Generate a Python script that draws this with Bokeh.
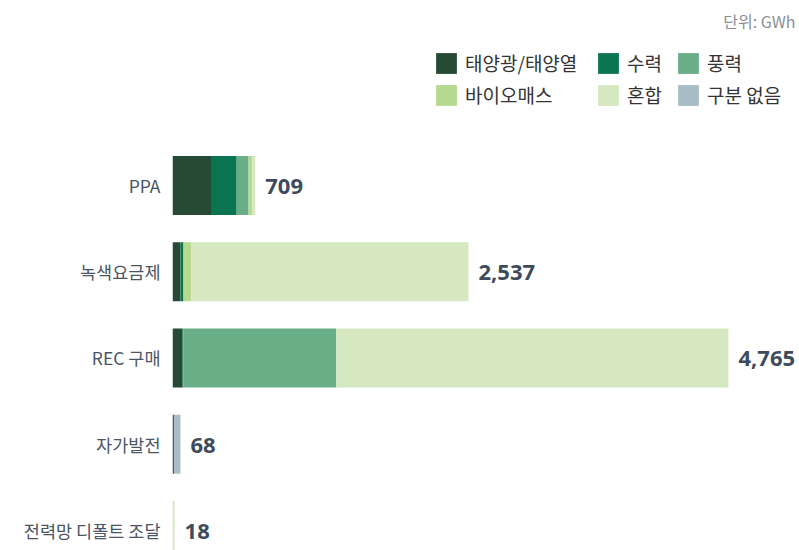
from bokeh.plotting import figure
from bokeh.models import ColumnDataSource, Range1d, FixedTicker, Legend, LegendItem, Label
from bokeh.core.properties import value
from bokeh.embed import file_html
from bokeh.resources import INLINE

categories = ["PPA", "녹색요금제", "REC 구매", "자가발전", "전력망 디폴트 조달"]
series_names = ["태양광/태양열", "수력", "풍력", "바이오매스", "혼합", "구분 없음"]
solar = [330, 68, 85, 12, 0]
hydro = [220, 26, 8, 0, 0]
wind = [102, 0, 1311, 0, 0]
bio = [32, 68, 0, 0, 0]
mixed = [25, 2375, 3361, 0, 18]
unknown = [0, 0, 0, 56, 0]
totals = [709, 2537, 4765, 68, 18]
total_labels = ["709", "2,537", "4,765", "68", "18"]
colors = ["#274a34", "#0b7450", "#6aae88", "#b6d98f", "#d6e8c0", "#a8bdc5"]

keys = ["s0", "s1", "s2", "s3", "s4", "s5"]
ypos = list(range(len(categories)))
src = ColumnDataSource(dict(y=ypos, s0=solar, s1=hydro, s2=wind, s3=bio, s4=mixed, s5=unknown,
                            total=totals, label=total_labels))

FONT = "Noto Sans CJK KR"
XMAX = 5374

p = figure(width=799, height=550, output_backend="svg", toolbar_location=None,
           x_range=Range1d(0, XMAX), y_range=Range1d(4.232, -2.145),
           x_axis_location=None, min_border_left=172, min_border_right=0,
           min_border_top=0, min_border_bottom=0)
p.outline_line_color = None
p.grid.visible = False
p.background_fill_color = "white"
p.border_fill_color = "white"

renderers = p.hbar_stack(keys, y="y", height=0.684, color=colors, source=src, line_width=0)

p.text(x="total", y="y", text="label", source=src, x_offset=10, y_offset=1,
       text_baseline="middle", text_align="left", text_font=value("Noto Sans"),
       text_font_style="bold", text_font_size="22px", text_color="#3e4b5c")

ax = p.yaxis[0]
ax.ticker = FixedTicker(ticks=ypos)
ax.major_label_overrides = {i: c for i, c in enumerate(categories)}
ax.axis_line_color = None
ax.major_tick_line_color = None
ax.minor_tick_line_color = None
ax.major_tick_out = 0
ax.major_tick_in = 0
ax.major_label_standoff = 12
ax.major_label_text_font = FONT
ax.major_label_text_font_size = "17.5px"
ax.major_label_text_color = "#4b5563"

items = [LegendItem(label=n, renderers=[r]) for n, r in zip(series_names, renderers)]
col_x = [261, 423, 503]
for c in range(3):
    lg = Legend(items=[items[c], items[c + 3]], orientation="vertical", location=(col_x[c], 442),
                glyph_width=26, glyph_height=26, label_height=26, label_standoff=6, spacing=5,
                padding=0, margin=0, border_line_color=None, background_fill_alpha=0,
                label_text_font=FONT, label_text_font_size="19px", label_text_color="#333333")
    p.add_layout(lg, "center")

unit = Label(x=XMAX, y=-1.913, x_offset=-4, text="단위: GWh", text_align="right",
             text_baseline="middle", text_font=FONT, text_font_size="16px",
             text_color="#8a8f96")
p.add_layout(unit)

open("out.html", "w").write(file_html(p, INLINE))
